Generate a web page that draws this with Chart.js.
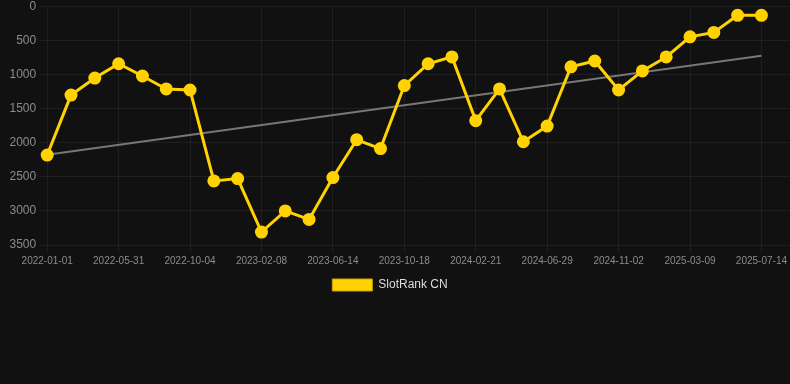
<!DOCTYPE html>
<html>
<head>
<meta charset="utf-8">
<script src="https://cdn.jsdelivr.net/npm/chart.js@4/dist/chart.umd.min.js"></script>
<style>
    html, body { margin: 0; padding: 0; background: #111111; }
    #wrap { width: 790px; height: 301px; }
</style>
</head>
<body>
<div id="wrap"><canvas id="chart"></canvas></div>
<script>
// Dates of each ranking snapshot (only every third is shown on the axis)
const dates = [
    '2022-01-01', '2022-02-19', '2022-04-10', '2022-05-31', '2022-07-12', '2022-08-23',
    '2022-10-04', '2022-11-15', '2022-12-27', '2023-02-08', '2023-03-22', '2023-05-03',
    '2023-06-14', '2023-07-26', '2023-09-06', '2023-10-18', '2023-11-29', '2024-01-10',
    '2024-02-21', '2024-04-03', '2024-05-16', '2024-06-29', '2024-08-10', '2024-09-21',
    '2024-11-02', '2024-12-14', '2025-01-25', '2025-03-09', '2025-04-20', '2025-06-01',
    '2025-07-14'
];

// SlotRank CN position (lower is better)
const ranks = [
    2180, 1300, 1050, 840, 1020, 1210,
    1225, 2560, 2525, 3310, 3000, 3125,
    2510, 1955, 2085, 1160, 840, 740,
    1675, 1210, 1985, 1755, 885, 800,
    1225, 945, 740, 445, 380, 130,
    130
];

const yTicks = [0, 500, 1000, 1500, 2000, 2500, 3000, 3500];

// Least squares trend over the series
function trendLine(values) {
    const n = values.length;
    let sx = 0, sy = 0, sxy = 0, sxx = 0;
    values.forEach((v, i) => { sx += i; sy += v; sxy += i * v; sxx += i * i; });
    const slope = (n * sxy - sx * sy) / (n * sxx - sx * sx);
    const icpt = (sy - slope * sx) / n;
    return [{ x: 0, y: icpt }, { x: n - 1, y: icpt + slope * (n - 1) }];
}

const points = ranks.map((v, i) => ({ x: i, y: v }));
const GRID = 'rgba(255, 255, 255, 0.06)';
const TICK = '#8c8c8c';
const FONT = 'Liberation Sans, Arial, sans-serif';

new Chart(document.getElementById('chart'), {
    type: 'line',
    data: {
        datasets: [
            {
                label: 'SlotRank CN',
                data: points,
                borderColor: '#FFD200',
                backgroundColor: '#FFD200',
                borderWidth: 3,
                pointRadius: 5,
                pointHoverRadius: 6,
                tension: 0,
                clip: false,
                order: 1
            },
            {
                label: 'Trend',
                data: trendLine(ranks),
                borderColor: '#777777',
                borderWidth: 2,
                pointRadius: 0,
                fill: false,
                order: 2
            }
        ]
    },
    options: {
        responsive: true,
        maintainAspectRatio: false,
        animation: false,
        layout: { autoPadding: false, padding: 0 },
        plugins: {
            legend: {
                position: 'bottom',
                labels: {
                    color: '#dddddd',
                    font: { family: FONT, size: 12 },
                    boxWidth: 40,
                    boxHeight: 12,
                    padding: 10,
                    filter: (item) => item.text.trim() !== 'Trend',
                    generateLabels: (chart) => {
                        const items = Chart.defaults.plugins.legend.labels.generateLabels(chart);
                        // trailing spaces nudge the centred item a little to the left
                        items.forEach(it => { it.lineWidth = 1; it.strokeStyle = '#c9a400'; it.text += '   '; });
                        return items;
                    }
                }
            },
            tooltip: { enabled: false }
        },
        scales: {
            x: {
                type: 'linear',
                min: 0,
                max: 31.2,
                afterBuildTicks: (axis) => {
                    axis.ticks = dates.map((d, i) => ({ value: i })).filter(t => t.value % 3 === 0);
                },
                afterFit: (axis) => { axis.paddingRight = 0; },
                ticks: {
                    color: TICK,
                    font: { family: FONT, size: 10 },
                    maxRotation: 0,
                    autoSkip: false,
                    padding: 2,
                    callback: (value) => dates[value]
                },
                grid: { color: GRID },
                border: { display: false }
            },
            y: {
                reverse: true,
                min: 0,
                max: 3500,
                afterBuildTicks: (axis) => {
                    axis.ticks = yTicks.map(v => ({ value: v }));
                },
                afterFit: (axis) => { axis.paddingTop = 6.5; axis.width += 6.5; },
                ticks: {
                    color: TICK,
                    font: { family: FONT, size: 12 },
                    callback: (value) => String(value)
                },
                grid: { color: GRID },
                border: { display: false }
            }
        }
    }
});
</script>
</body>
</html>
